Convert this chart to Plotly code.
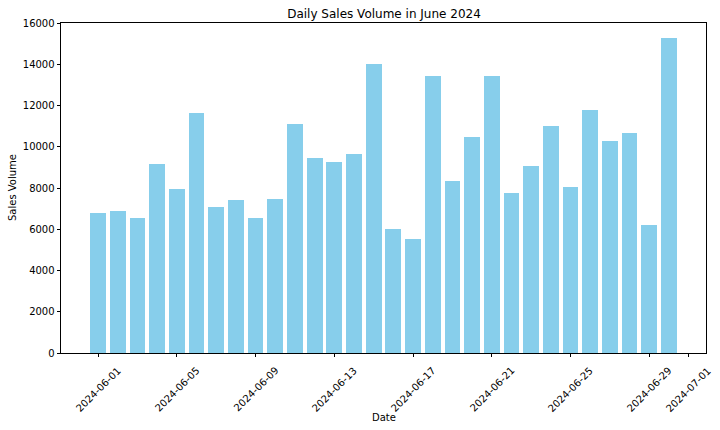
import plotly.graph_objects as go
import pandas as pd

dates = pd.date_range("2024-06-01", "2024-06-30", freq="D")
sales = [6800, 6900, 6550, 9150, 7950, 11650, 7100, 7400, 6550, 7450,
         11080, 9450, 9250, 9650, 14000, 6030, 5550, 13420, 8350, 10450,
         13450, 7780, 9050, 11000, 8060, 11800, 10300, 10650, 6200, 15250]
tick_dates = ["2024-06-01", "2024-06-05", "2024-06-09", "2024-06-13", "2024-06-17",
              "2024-06-21", "2024-06-25", "2024-06-29", "2024-07-01"]
y_ticks = [0, 2000, 4000, 6000, 8000, 10000, 12000, 14000, 16000]
y_tick_labels = [str(v) for v in y_ticks]

DAY = 86400000
start = pd.Timestamp("2024-06-01")
x_lo = start - pd.Timedelta(days=1.89)
x_hi = start + pd.Timedelta(days=30.89)

FONT = "DejaVu Sans"

fig = go.Figure()
fig.add_trace(go.Bar(x=dates, y=sales, width=0.8 * DAY,
                     marker=dict(color="#87CEEB", line=dict(width=0))))

annotations = []
for d in tick_dates:
    annotations.append(dict(x=d, xref="x", y=-0.027, yref="paper", text=d,
                            showarrow=False, textangle=-45, xanchor="center",
                            yanchor="top", font=dict(family=FONT, size=10, color="black")))
annotations.append(dict(x=0.5, xref="paper", y=-0.194, yref="paper", text="Date",
                        showarrow=False, xanchor="center", yanchor="middle",
                        font=dict(family=FONT, size=10, color="black")))
annotations.append(dict(x=-(61 - 12) / 645, xref="paper", y=0.5, yref="paper",
                        text="Sales Volume", showarrow=False, textangle=-90,
                        xanchor="center", yanchor="middle",
                        font=dict(family=FONT, size=10, color="black")))

fig.update_layout(
    width=720, height=430,
    margin=dict(l=61, r=14, t=23, b=77, autoexpand=False),
    paper_bgcolor="white", plot_bgcolor="white",
    font=dict(family=FONT, size=10, color="black"),
    title=dict(text="Daily Sales Volume in June 2024", x=384 / 720, xref="container",
               xanchor="center", y=1 - 13.5 / 430, yref="container", yanchor="middle",
               font=dict(family=FONT, size=12, color="black")),
    showlegend=False,
    bargap=0,
    annotations=annotations,
)
fig.update_xaxes(type="date", range=[x_lo, x_hi], tickvals=tick_dates,
                 showticklabels=False, ticks="outside", ticklen=3.5, tickwidth=0.8,
                 tickcolor="black", showline=True, linecolor="black", linewidth=0.8,
                 mirror=True, showgrid=False, zeroline=False)
fig.update_yaxes(range=[0, 16000], tickvals=y_ticks, ticktext=y_tick_labels,
                 ticks="outside", ticklen=3.5,
                 tickwidth=0.8, tickcolor="black", showline=True, linecolor="black",
                 linewidth=0.8, mirror=True, showgrid=False, zeroline=False,
                 tickfont=dict(family=FONT, size=10, color="black"))

fig.write_html("out.html", config={"displayModeBar": False},
               post_script="document.body.style.margin='0';document.body.style.overflow='hidden';")
